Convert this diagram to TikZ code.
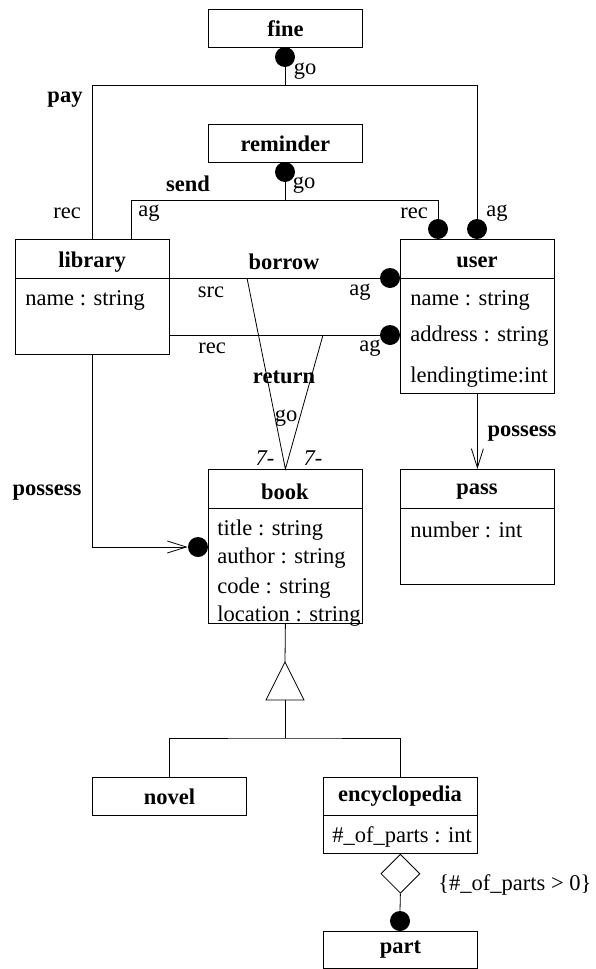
\documentclass[tikz,border=0pt]{standalone}
\usepackage{fontspec}
\setmainfont{Liberation Serif}
\usetikzlibrary{arrows.meta,shapes.geometric}
\begin{document}
\begin{tikzpicture}[x=1pt,y=-1pt,line width=0.8pt,
  box/.style={draw,inner sep=0pt,anchor=north west,minimum width=154pt},
  ttl/.style={font=\fontsize{22.5}{26}\selectfont\bfseries,inner sep=0pt},
  lbl/.style={font=\fontsize{22.5}{26}\selectfont,inner sep=0pt},
  attr/.style={lbl,anchor=west},
  dotc/.style={circle,fill=black,inner sep=0pt,minimum size=20pt},
  barb/.style={-{Straight Barb[length=19pt,width=12pt,line width=0.8pt]}}]
\useasboundingbox (0,0) rectangle (595,969);

% ---- boxes
\node[box,minimum height=38pt,ttl,anchor=north west] (fine) at (208,9) {fine};
\node[box,minimum height=38pt,ttl,anchor=north west] (rem) at (208,124) {reminder};

\node[box,minimum height=115pt] (lib) at (15,239) {};
\draw (15,278) -- (169,278);
\node[ttl] (libt) at (92,262) {library};
\node[attr] (liba) at (25,300) {name : string};

\node[box,minimum height=154pt] (user) at (400,239) {};
\draw (400,278) -- (554,278);
\node[ttl] (usert) at (477,262) {user};
\node[attr] (usera) at (410,300) {name : string};
\node[attr] (userb) at (410,336) {address : string};
\node[attr] (userc) at (410,377) {lendingtime:int};

\node[box,minimum height=154pt] (book) at (208,469) {};
\draw (208,508) -- (362,508);
\node[ttl] (bookt) at (285,492) {book};
\node[attr] (booka) at (217,530) {title : string};
\node[attr] (bookb) at (217,558) {author : string};
\node[attr] (bookc) at (217,588) {code : string};
\node[attr] (bookd) at (217,616) {location : string};

\node[box,minimum height=115pt] (pass) at (400,469) {};
\draw (400,508) -- (554,508);
\node[ttl] (passt) at (477,492) {pass};
\node[attr] (passa) at (410,530) {number : int};

\node[box,minimum height=38pt,ttl,anchor=north west] (novel) at (92,777) {novel};
\node[box,minimum height=76pt] (enc) at (323,777) {};
\draw (323,815) -- (477,815);
\node[ttl] (enct) at (400,796) {encyclopedia};
\node[attr] (enca) at (332,837) {\#\_of\_parts : int};
\node[box,minimum height=37pt,ttl,anchor=north west] (part) at (323,931) {part};

% ---- dots
\node[dotc] (dfine) at (285,57) {};
\node[dotc] (drem) at (285,172) {};
\node[dotc] (dsend) at (438,229) {};
\node[dotc] (dpay) at (477,229) {};
\node[dotc] (dborrow) at (390,278) {};
\node[dotc] (dreturn) at (390,335) {};
\node[dotc] (dbook) at (198,547) {};
\node[dotc] (dpart) at (400,921) {};

% ---- pay
\coordinate (payM) at (285,85);
\coordinate (payL) at (92,85);
\coordinate (payR) at (477,85);
\draw (dfine.south) -- (payM) (payL) -- (payR)
      (payL) -- (payL |- lib.north) (payR) -- (dpay.north);
% ---- send
\coordinate (sendM) at (285,200);
\coordinate (sendL) at (131,200);
\coordinate (sendR) at (438,200);
\draw (drem.south) -- (sendM) (sendL) -- (sendR)
      (sendL) -- (sendL |- lib.north) (sendR) -- (dsend.north);
% ---- borrow / return
\coordinate (bL) at (169,278);
\coordinate (rL) at (169,335);
\draw (bL) -- (dborrow.west);
\draw (rL) -- (dreturn.west);
\coordinate (rt1) at (247,278);
\coordinate (rt2) at (323,335);
\draw (rt1) -- (book.north) -- (rt2);
% ---- possess
\draw[barb] (user.south) -- (pass.north);
\draw[barb] (lib.south) |- (dbook.west);
% ---- generalization
\coordinate (triTop) at (285,662);
\coordinate (triL) at (266,700);
\coordinate (triR) at (304,700);
\coordinate (triB) at (285,700);
\coordinate (genM) at (285,738);
\draw (book.south) -- (triTop);
\draw (triTop) -- (triR) -- (triL) -- cycle;
\draw (triB) -- (genM);
\draw (novel.north) |- (genM) -| (enc.north);
% ---- aggregation
\node[draw,diamond,aspect=1,minimum width=39pt,minimum height=39pt,inner sep=0pt,anchor=north] (dia) at (enc.south) {};
\draw (dia.south) -- (dpart.north);

% ---- labels
\node[lbl] (l1) at (305,71) {go};
\node[ttl] (l2) at (65,100) {pay};
\node[lbl] (l3) at (304,185) {go};
\node[ttl] (l4) at (188,184) {send};
\node[lbl] (l5) at (67,213) {rec};
\node[lbl] (l6) at (149,213) {ag};
\node[lbl] (l7) at (414,213) {rec};
\node[lbl] (l8) at (497,213) {ag};
\node[ttl] (l9) at (284,262) {borrow};
\node[lbl] (l10) at (211,292) {src};
\node[lbl] (l11) at (360,292) {ag};
\node[lbl] (l12) at (212,348) {rec};
\node[lbl] (l13) at (370,348) {ag};
\node[ttl] (l14) at (284,377) {return};
\node[lbl] (l15) at (286,418) {go};
\node[lbl,font=\fontsize{22.5}{26}\selectfont\itshape] (l16) at (265,458) {7-};
\node[lbl,font=\fontsize{22.5}{26}\selectfont\itshape] (l17) at (313,458) {7-};
\node[ttl] (l18) at (522,434) {possess};
\node[ttl] (l19) at (47,493) {possess};
\node[lbl,anchor=west] (l20) at (438,885) {\{\#\_of\_parts > 0\}};
\end{tikzpicture}
\end{document}
